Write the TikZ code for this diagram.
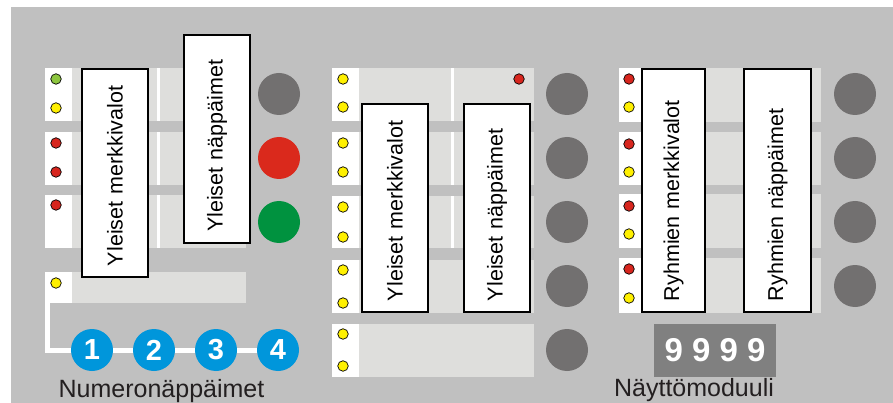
\documentclass[tikz,border=0pt]{standalone}
\usepackage{fontspec}
\setmainfont{Liberation Sans}
\usepackage{tikz}
\definecolor{panelgray}{HTML}{C0C0C0}
\definecolor{stripgray}{HTML}{DEDEDC}
\definecolor{btngray}{HTML}{727070}
\definecolor{btnred}{HTML}{DA291C}
\definecolor{btngreen}{HTML}{00923F}
\definecolor{ledyellow}{HTML}{FFF000}
\definecolor{ledred}{HTML}{D7261E}
\definecolor{ledgreen}{HTML}{8DC63F}
\definecolor{keyblue}{HTML}{0096DB}
\definecolor{dispgray}{HTML}{808080}
\definecolor{captext}{HTML}{231F20}
\tikzset{
  led/.style      = {circle, draw=black, line width=0.7pt, minimum size=10.5pt, inner sep=0pt},
  bigbtn/.style   = {circle, minimum size=42pt, inner sep=0pt, fill=btngray},
  numkey/.style   = {circle, minimum size=42pt, inner sep=0pt, fill=keyblue, text=white,
                     font=\fontsize{29}{29}\selectfont\bfseries},
  keyline/.style  = {white, line width=5pt},
  labelbox/.style = {draw=black, line width=1.3pt, fill=white, rotate=90, align=left,
                     inner xsep=11pt, inner ysep=0pt, minimum height=#1,
                     font=\fontsize{21.5}{21.5}\selectfont},
  caption/.style  = {text=captext, anchor=base, font=\fontsize{25}{25}\selectfont}
}

\begin{document}
\begin{tikzpicture}[x=1pt,y=-1pt]
  \fill[white] (0,0) rectangle (893,403);
  \fill[panelgray] (11,7) rectangle (893,403);
  \useasboundingbox (0,0) rectangle (893,403);
  % left panel strips
  \foreach \a/\b in {68/121,132/185,195/248} {
    \fill[stripgray] (72,\a) rectangle (246,\b);
    \fill[white] (45,\a) rectangle (72,\b);
    \fill[white] (157,\a) rectangle (160,\b);
  }
  \fill[stripgray] (72,272) rectangle (246,303);
  \fill[white] (45,272) rectangle (72,303);
  % middle panel strips
  \foreach \a/\b in {68/121,132/185,196/248,260/313,324/377} {
    \fill[stripgray] (359,\a) rectangle (534,\b);
    \fill[white] (332,\a) rectangle (359,\b);
  }
  \foreach \a/\b in {68/121,132/185,196/248}
    \fill[white] (451,\a) rectangle (453.5,\b);
  % right panel strips
  \foreach \a/\b in {68/122,132/185,194/248,258/313} {
    \fill[stripgray] (642,\a) rectangle (821,\b);
    \fill[white] (619,\a) rectangle (642,\b);
  }
  % leds
  \node[led,fill=ledgreen]  (L1) at (56,79) {};
  \node[led,fill=ledyellow] (L2) at (56,108) {};
  \node[led,fill=ledred]    (L3) at (56,143) {};
  \node[led,fill=ledred]    (L4) at (56,172) {};
  \node[led,fill=ledred]    (L5) at (56,205) {};
  \node[led,fill=ledyellow] (L6) at (56,283) {};
  \foreach \y [count=\i] in {79,107,143,172,207,237,270,303,334,366}
    \node[led,fill=ledyellow] (M\i) at (343,\y) {};
  \node[led,fill=ledred] (M0) at (519,79) {};
  \foreach \y/\c [count=\i] in {79/ledred,107/ledyellow,144/ledred,172/ledyellow,
                                206/ledred,234/ledyellow,269/ledred,298/ledyellow}
    \node[led,fill=\c] (R\i) at (629,\y) {};
  % label boxes
  \node[labelbox=66pt,text width=186pt]  (lmerk) at (115,173)   {Yleiset merkkivalot};
  \node[labelbox=66pt,text width=186pt]  (lnap)  at (217,139)   {Yleiset näppäimet};
  \node[labelbox=66pt,text width=186pt]  (mmerk) at (395,208)   {Yleiset merkkivalot};
  \node[labelbox=66pt,text width=186pt]  (mnap)  at (497,208)   {Yleiset näppäimet};
  \node[labelbox=63pt,text width=221pt]  (rmerk) at (673.5,190.5) {Ryhmien merkkivalot};
  \node[labelbox=67pt,text width=221pt]  (rnap)  at (777.5,190.5) {Ryhmien näppäimet};
  % big buttons
  \node[bigbtn]               (gb1) at (279,94) {};
  \node[bigbtn,fill=btnred]   (gb2) at (279,158) {};
  \node[bigbtn,fill=btngreen] (gb3) at (279,222) {};
  \foreach \y [count=\i] in {94,158,222,286,350}
    \node[bigbtn] (mb\i) at (567,\y) {};
  \foreach \y [count=\i] in {94,158,222,286}
    \node[bigbtn] (rb\i) at (855,\y) {};
  % number keys
  \foreach \x [count=\i] in {92,154,216,278}
    \node[numkey] (k\i) at (\x,350) {\i};
  \coordinate (ktop) at (47.5,303);
  \coordinate (kcorner) at (47.5,350);
  \draw[keyline] (ktop) -- (kcorner) -- (k1);
  \draw[keyline] (k1) -- (k2);
  \draw[keyline] (k2) -- (k3);
  \draw[keyline] (k3) -- (k4);
  % display
  \node[fill=dispgray, minimum width=122pt, minimum height=53pt, inner sep=0pt,
        text=white, font=\fontsize{33}{33}\selectfont\bfseries] (disp) at (715,350.5) {9 9 9 9};
  \node[caption] (numcap)  at (161.5,397) {Numeronäppäimet};
  \node[caption] (dispcap) at (694,396)   {Näyttömoduuli};
\end{tikzpicture}
\end{document}
